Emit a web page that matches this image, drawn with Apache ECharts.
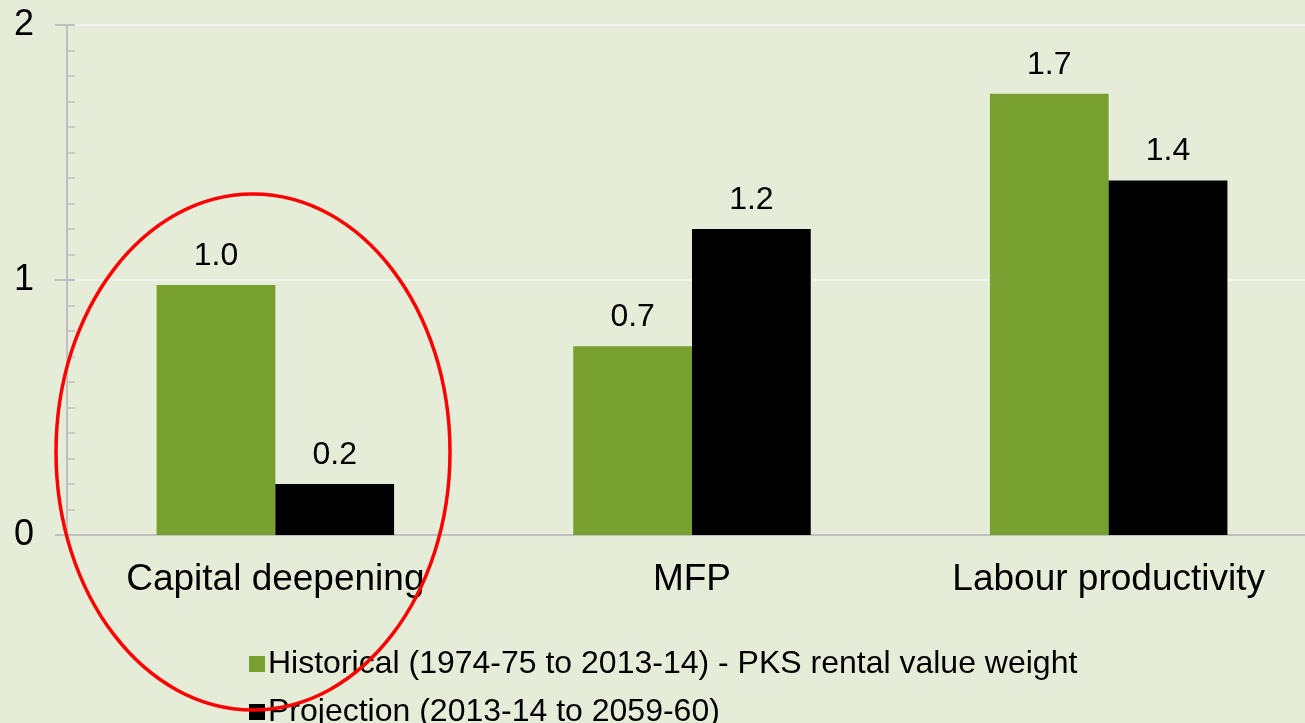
<!DOCTYPE html>
<html>
	<head>
		<meta charset="UTF-8">
		<title></title>
		<script src="https://cdn.jsdelivr.net/npm/echarts@6/dist/echarts.min.js"></script>
		<style type="text/css">
			html, body{
				margin: 0;
				padding: 0;
				background: #E5ECD7;
			}
			#chart{
				width: 1305px;
				height: 723px;
			}
		</style>
	</head>
	<body>
		<div id="chart"></div>
		<script>
		var categories = ['Capital deepening', 'MFP', 'Labour productivity'];
		var historical = [0.98, 0.74, 1.73];
		var projection = [0.20, 1.20, 1.39];
		var seriesNames = ['Historical (1974-75 to 2013-14) - PKS rental value weight', 'Projection (2013-14 to 2059-60)'];

		var myChart = echarts.init(document.getElementById('chart'));
		var font = 'Liberation Sans, Arial, sans-serif';
		var axisGrey = '#C0C0C0';

		var labelOpt = {
			show: true,
			position: 'top',
			distance: 13,
			fontSize: 32,
			fontFamily: font,
			color: '#000',
			formatter: function (p) { return p.value.toFixed(1); }
		};

		var option = {
			backgroundColor: '#E5ECD7',
			animation: false,
			grid: {
				left: 67,
				width: 1250,
				top: 25,
				bottom: 188,
				outerBoundsMode: 'none'
			},
			legend: {
				orient: 'vertical',
				left: 244,
				top: 643,
				height: 150,
				itemWidth: 16,
				itemHeight: 16,
				itemGap: 16,
				icon: 'rect',
				textStyle: { fontSize: 32, fontFamily: font, color: '#000', padding: [0, 0, 0, -2] },
				data: seriesNames
			},
			xAxis: {
				type: 'category',
				data: categories,
				axisLine: { lineStyle: { color: axisGrey, width: 2 } },
				axisTick: { length: 10, lineStyle: { color: axisGrey, width: 2 } },
				axisLabel: { margin: 26, fontSize: 37, fontFamily: font, color: '#000' }
			},
			yAxis: [{
				type: 'value',
				min: 0,
				max: 2,
				interval: 1,
				axisLine: { show: true, lineStyle: { color: axisGrey, width: 2 } },
				axisTick: { show: true, inside: true, length: 8, lineStyle: { color: axisGrey, width: 2 } },
				minorTick: { show: true, splitNumber: 10, length: 8, lineStyle: { color: axisGrey, width: 1.5 } },
				axisLabel: { margin: 33, fontSize: 36, fontFamily: font, color: '#000' },
				splitLine: { lineStyle: { color: '#F2F2F2', width: 2 } }
			}, {
				type: 'value',
				position: 'left',
				min: 0,
				max: 2,
				interval: 1,
				axisLine: { show: false },
				axisTick: { show: true, length: 12, lineStyle: { color: axisGrey, width: 2 } },
				axisLabel: { show: false },
				splitLine: { show: false }
			}],
			series: [{
				name: seriesNames[0],
				type: 'bar',
				data: historical,
				barGap: '0%',
				barCategoryGap: '43%',
				itemStyle: { color: '#78A02F' },
				label: labelOpt
			}, {
				name: seriesNames[1],
				type: 'bar',
				data: projection,
				itemStyle: { color: '#000000' },
				label: labelOpt
			}],
			graphic: [{
				type: 'ellipse',
				shape: { cx: 253, cy: 452, rx: 197, ry: 258 },
				style: { fill: 'none', stroke: '#FF0000', lineWidth: 3.5 },
				z: 100
			}]
		};
		myChart.setOption(option);
		</script>
	</body>
</html>
